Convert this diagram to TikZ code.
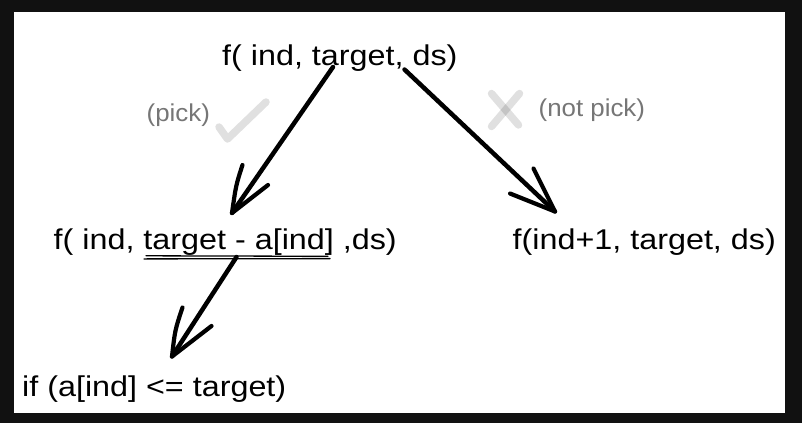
\documentclass[tikz,border=0pt]{standalone}
\usepackage{fontspec}
\setmainfont{Liberation Sans}
\newfontfamily\mainf[FakeStretch=1.13]{Liberation Sans}
\newfontfamily\labf[FakeStretch=1.06]{Liberation Sans}
\definecolor{frame}{HTML}{111111}
\definecolor{labgray}{HTML}{767676}
\begin{document}
\begin{tikzpicture}[x=1pt,y=-1pt,
  txt/.style={anchor=base west,inner sep=0pt,font=\mainf\fontsize{28.6}{34}\selectfont,text=black},
  lab/.style={anchor=base west,inner sep=0pt,font=\labf\fontsize{24.4}{29}\selectfont,text=labgray},
  shaft/.style={line width=4.5pt,line cap=round,line join=round,black},
  barb/.style={line width=4.2pt,line cap=round,line join=round,black},
  ghost/.style={line width=7.5pt,line cap=round,line join=round,black,draw opacity=0.12},
  uline/.style={line width=1.3pt,line cap=round,black}]
\useasboundingbox (0,0) rectangle (802,423);
\fill[frame] (0,0) rectangle (802,423);
\fill[white] (14,12) rectangle (785,413);

% texts
\node[txt] (top) at (222,65) {f( ind, target, ds)};
\node[txt] (pick) at (53.5,249) {f( ind, target - a[ind] ,ds)};
\node[txt] (notpick) at (512.5,249) {f(ind+1, target, ds)};
\node[txt] (cond) at (22,396.5) {if (a[ind] <= target)};
\node[lab] (lpick) at (146.5,121.5) {(pick)};
\node[lab] (lnot) at (538.5,116.5) {(not pick)};

% double underline
\coordinate (u1a) at (146,255.8); \coordinate (u1b) at (328,256.3);
\coordinate (u2a) at (144,258.9); \coordinate (u2b) at (330,258.6);
\draw[uline] (u1a) -- (u1b);
\draw[uline] (u2a) -- (u2b);

% check mark and cross
\coordinate (c1) at (219,127); \coordinate (c2) at (227.5,139); \coordinate (c3) at (266,102);
\draw[ghost] (c1) -- (c2) -- (c3);
\coordinate (x1a) at (491.5,93.5); \coordinate (x1b) at (518.5,125);
\coordinate (x2a) at (519.5,93.5); \coordinate (x2b) at (491.5,126.5);
\draw[ghost] (x1a) -- (x1b);
\draw[ghost] (x2a) -- (x2b);

% arrow: top -> pick
\coordinate (s1) at (333,67); \coordinate (t1) at (232,213);
\coordinate (b1a) at (242.5,165); \coordinate (b1b) at (268,185);
\draw[shaft] (s1) -- (t1);
\draw[barb] (b1a) .. controls (236,185) .. (t1) -- (b1b);

% arrow: top -> notpick
\coordinate (s2) at (404.5,69.5); \coordinate (t2) at (555,211.5);
\coordinate (b2a) at (533.5,168.5); \coordinate (b2b) at (510,193.5);
\draw[shaft] (s2) -- (t2);
\draw[barb] (b2a) -- (t2) -- (b2b);

% arrow: pick -> cond
\coordinate (s3) at (236.5,257); \coordinate (t3) at (172,356.5);
\coordinate (b3a) at (182.5,307.5); \coordinate (b3b) at (211.5,326);
\draw[shaft] (s3) -- (t3);
\draw[barb] (b3a) .. controls (175,330) .. (t3) -- (b3b);
\end{tikzpicture}
\end{document}
